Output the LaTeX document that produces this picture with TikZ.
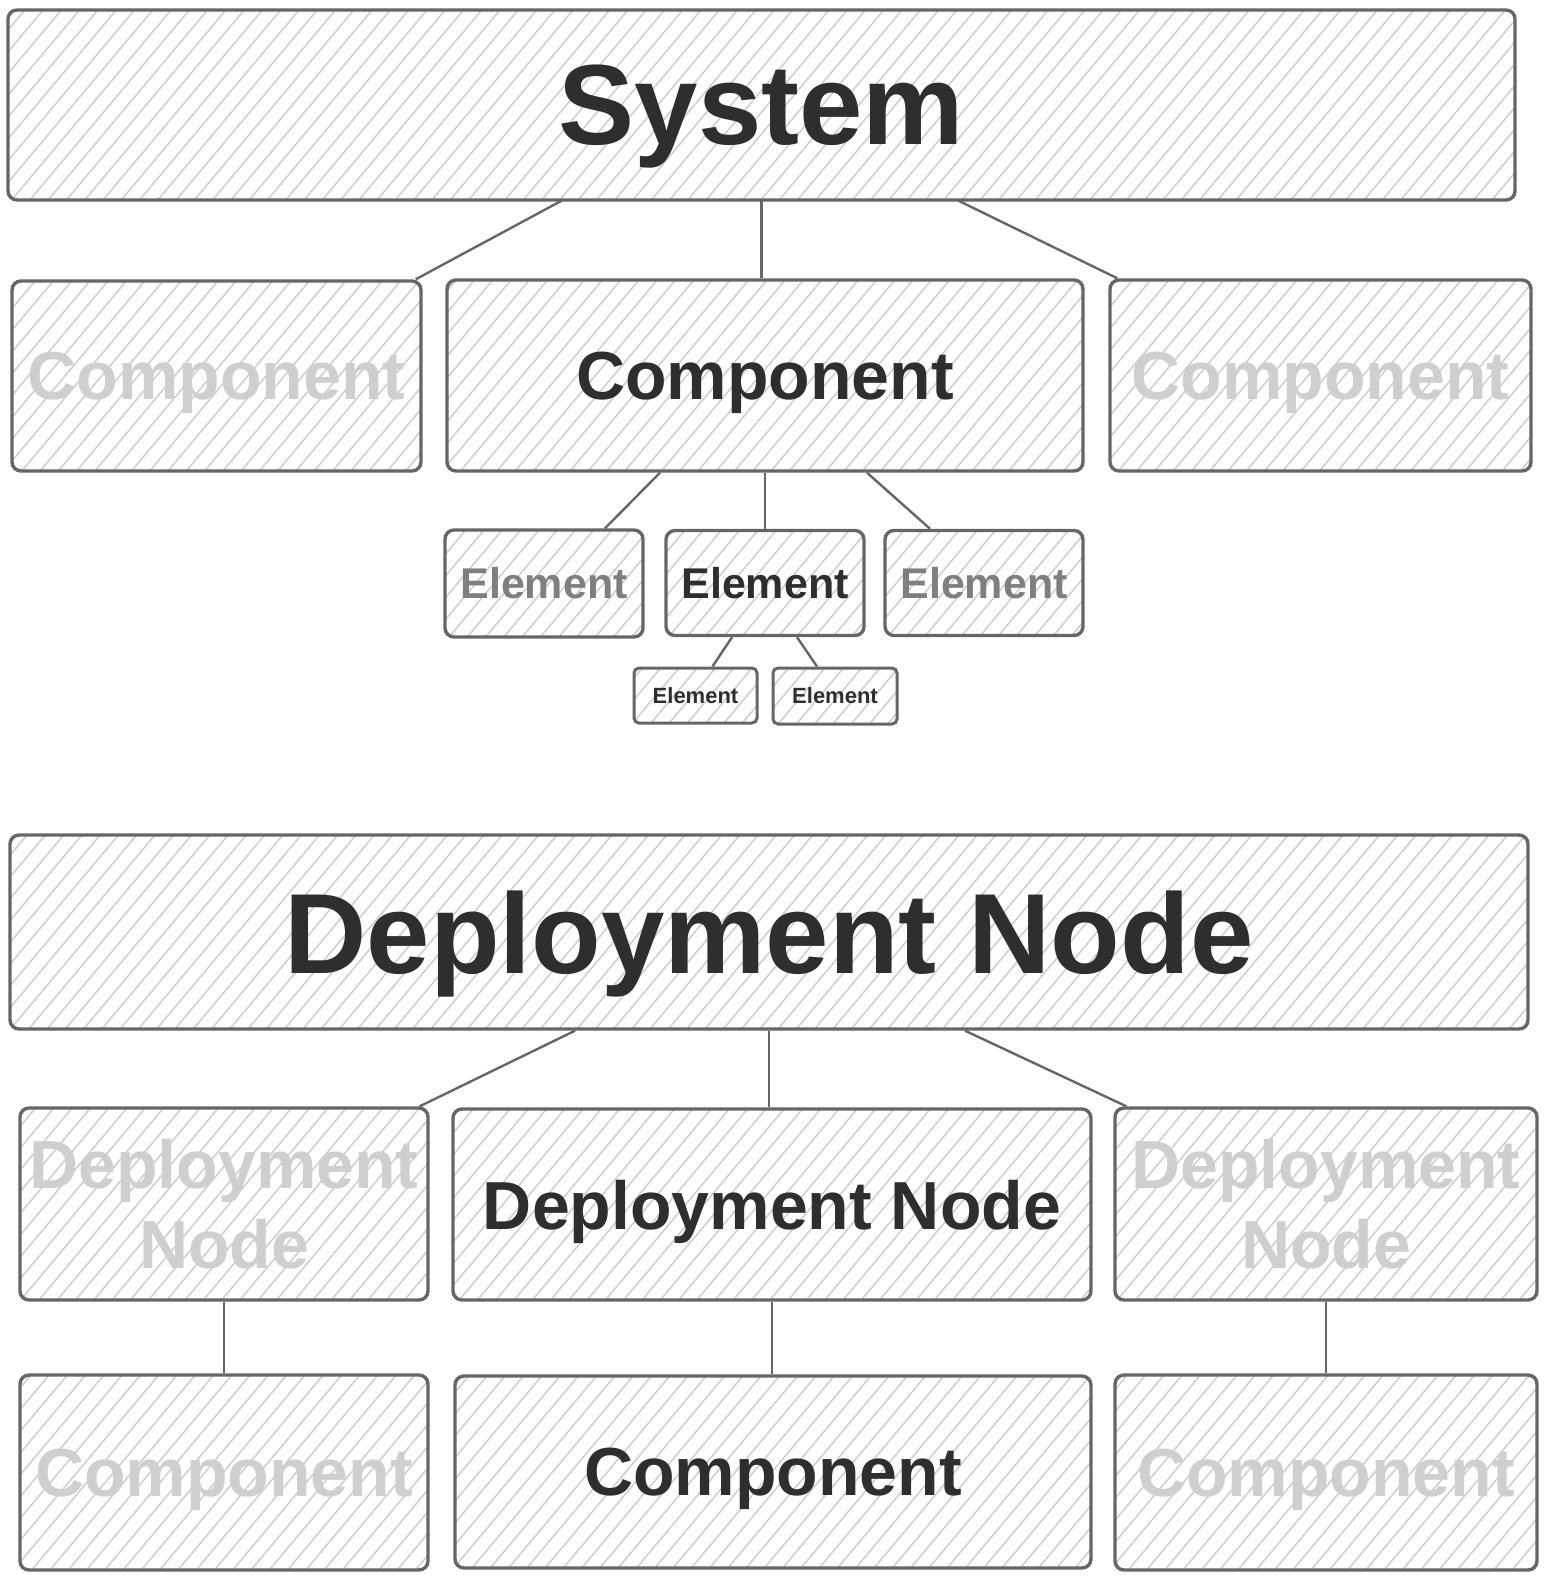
\documentclass[tikz,border=0pt]{standalone}
\usepackage{fontspec}
\setmainfont{Liberation Sans}
\usepackage{xcolor}
\usetikzlibrary{patterns.meta,positioning}

\definecolor{strokegray}{HTML}{666666}
\definecolor{hatchgray}{HTML}{CDCDCD}
\definecolor{inkdark}{HTML}{2E2E2E}
\definecolor{inkmid}{HTML}{7F7F7F}
\definecolor{inklight}{HTML}{CFCFCF}

\begin{document}
\begin{tikzpicture}[
    x=1pt, y=-1pt,
    sketchbox/.style={rectangle, draw=strokegray, line width=3.4pt, rounded corners=9pt,
        pattern={Lines[angle=50,distance=14pt,line width=1.5pt]}, pattern color=hatchgray,
        inner sep=0pt, align=center},
    huge/.style={font=\fontsize{114}{130}\selectfont\bfseries, text=inkdark, text depth=0pt},
    big/.style={font=\fontsize{68}{80}\selectfont\bfseries, text depth=0pt},
    mid/.style={font=\fontsize{43}{50}\selectfont\bfseries},
    tiny/.style={font=\fontsize{22}{26}\selectfont\bfseries, text=inkdark},
    link/.style={draw=strokegray, line width=2.4pt}
]
    \useasboundingbox (0,0) rectangle (1556,1586);

    % System tree
    \node [sketchbox, huge, minimum width=1507pt, minimum height=190pt] (system) at (761.5,105) {System};
    \node [sketchbox, big, text=inklight, minimum width=409pt, minimum height=190pt] (comp_left) at (216.5,376) {Component};
    \node [sketchbox, big, text=inkdark, minimum width=636pt, minimum height=191pt] (comp_mid) at (765,375.5) {Component};
    \node [sketchbox, big, text=inklight, minimum width=421pt, minimum height=191pt] (comp_right) at (1320.5,375.5) {Component};
    \draw [link] ([xshift=-200pt]system.south) -- ([xshift=-7pt]comp_left.north east);
    \draw [link] (system.south) -- (system.south |- comp_mid.north);
    \draw [link] ([xshift=197pt]system.south) -- ([xshift=9pt]comp_right.north west);

    % Elements
    \node [sketchbox, mid, text=inkmid, minimum width=198pt, minimum height=107pt] (elem_left) at (544,583.5) {Element};
    \node [sketchbox, mid, text=inkdark, minimum width=198pt, minimum height=105pt] (elem_mid) at (765,583) {Element};
    \node [sketchbox, mid, text=inkmid, minimum width=198pt, minimum height=105pt] (elem_right) at (984,583) {Element};
    \draw [link] ([xshift=-105pt]comp_mid.south) -- ([xshift=61pt]elem_left.north);
    \draw [link] (comp_mid.south) -- (elem_mid.north);
    \draw [link] ([xshift=102pt]comp_mid.south) -- ([xshift=-54pt]elem_right.north);

    % Sub-elements
    \node [sketchbox, tiny, line width=3pt, rounded corners=5pt, minimum width=123pt, minimum height=55pt] (sub_left) at (695.5,695.5) {Element};
    \node [sketchbox, tiny, line width=3pt, rounded corners=5pt, minimum width=124pt, minimum height=56pt] (sub_right) at (835,696) {Element};
    \draw [link] ([xshift=-33pt]elem_mid.south) -- ([xshift=17pt]sub_left.north);
    \draw [link] ([xshift=32pt]elem_mid.south) -- ([xshift=-18pt]sub_right.north);

    % Deployment tree
    \node [sketchbox, huge, minimum width=1518pt, minimum height=194pt] (deploy) at (769,932) {Deployment Node};
    \node [sketchbox, big, text=inklight, minimum width=408pt, minimum height=192pt] (dep_left) at (224,1204) {Deployment\\Node};
    \node [sketchbox, big, text=inkdark, minimum width=638pt, minimum height=191pt] (dep_mid) at (772,1204.5) {Deployment Node};
    \node [sketchbox, big, text=inklight, minimum width=422pt, minimum height=192pt] (dep_right) at (1326,1204) {Deployment\\Node};
    \draw [link] ([xshift=-194pt]deploy.south) -- ([xshift=-10pt]dep_left.north east);
    \draw [link] (deploy.south) -- (deploy.south |- dep_mid.north);
    \draw [link] ([xshift=196pt]deploy.south) -- ([xshift=13pt]dep_right.north west);

    % Components under deployment nodes
    \node [sketchbox, big, text=inklight, minimum width=408pt, minimum height=195pt] (cmp_left) at (224,1472.5) {Component};
    \node [sketchbox, big, text=inkdark, minimum width=636pt, minimum height=192pt] (cmp_mid) at (773,1472) {Component};
    \node [sketchbox, big, text=inklight, minimum width=422pt, minimum height=195pt] (cmp_right) at (1326,1472.5) {Component};
    \draw [link] (dep_left.south) -- (cmp_left.north);
    \draw [link] (dep_mid.south) -- (dep_mid.south |- cmp_mid.north);
    \draw [link] (dep_right.south) -- (cmp_right.north);
\end{tikzpicture}
\end{document}
